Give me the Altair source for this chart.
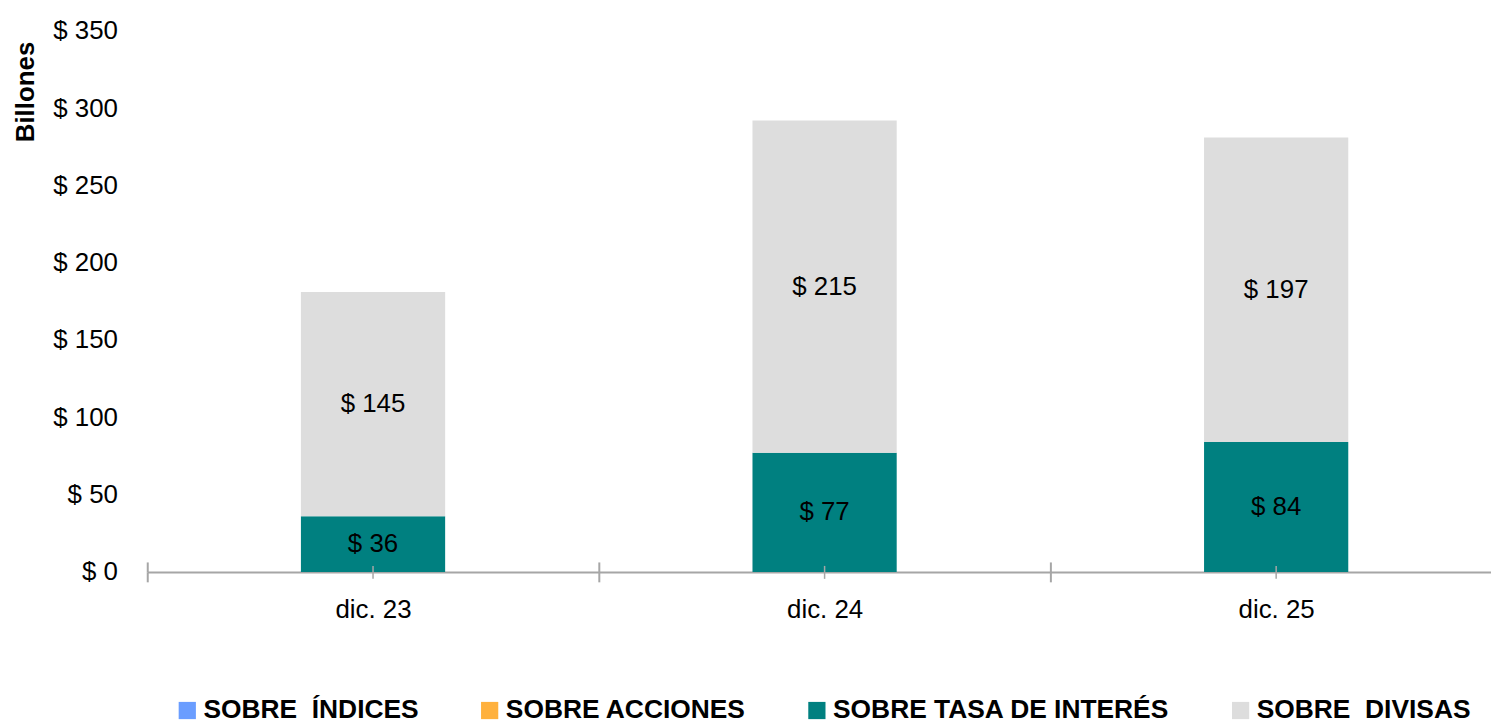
import altair as alt
import pandas as pd

periodos = ["dic. 23", "dic. 24", "dic. 25"]
series = ["SOBRE\u00a0 ÍNDICES", "SOBRE ACCIONES", "SOBRE TASA DE INTERÉS", "SOBRE\u00a0 DIVISAS"]
colores = ["#6A9DFF", "#FFB13D", "#008080", "#DDDDDD"]
indices = [0, 0, 0]
acciones = [0, 0, 0]
tasa = [36, 77, 84]
divisas = [145, 215, 197]
y_ticks = [0, 50, 100, 150, 200, 250, 300, 350]

rows = []
for i, p in enumerate(periodos):
    base = 0
    for k, (s, vals) in enumerate(zip(series, [indices, acciones, tasa, divisas])):
        v = vals[i]
        rows.append(dict(idx=i, periodo=p, serie=s, valor=v, orden=k,
                         y0=base, y1=base + v, mid=base + v / 2, etiqueta=f"$ {v}"))
        base += v
df = pd.DataFrame(rows)

FONT = "Liberation Sans, Arial, sans-serif"
GRAY = "#A6A6A6"
W = 1351
STEP = 454

n = len(periodos)
centers = list(range(n))
bounds = [i - 0.5 for i in range(n + 1)]
label_expr = "[" + ",".join(f"'{p}'" for p in periodos) + "][datum.value]"

xscale = alt.Scale(domain=[-0.5, n - 0.5], nice=False, zero=False, padding=0,
                   rangeMin=0, rangeMax=STEP * n)
yscale = alt.Scale(domain=[0, 350], nice=False)

yaxis = alt.Axis(values=y_ticks, labelExpr="'$ ' + datum.value", domain=False, ticks=False,
                 grid=False, labelFont=FONT, labelFontSize=26, labelColor="black",
                 labelPadding=30, title="Billones", titleFont=FONT, titleFontSize=26,
                 titleFontWeight="bold", titleAngle=270, titleX=-122, titleY=61,
                 titleAlign="center", titleBaseline="middle", titleColor="black")

base = alt.Chart(df)

bars = base.mark_bar(size=145).encode(
    x=alt.X("idx:Q", scale=xscale,
            axis=alt.Axis(title=None, orient="bottom", values=centers, labelExpr=label_expr,
                          domain=True, domainColor=GRAY, domainWidth=2, ticks=False,
                          labelAngle=0, labelFont=FONT, labelFontSize=26, labelColor="black",
                          labelPadding=25, grid=False, labelFlush=False, labelOverlap=False)),
    y=alt.Y("y0:Q", scale=yscale, axis=yaxis),
    y2="y1:Q",
    color=alt.Color("serie:N", scale=alt.Scale(domain=series, range=colores),
                    legend=alt.Legend(title=None, orient="none", legendX=27, legendY=670,
                                      direction="horizontal", symbolType="square", symbolSize=300,
                                      symbolStrokeWidth=0, labelFont=FONT, labelFontSize=26.5,
                                      labelFontWeight="bold", labelColor="black", labelLimit=0,
                                      columnPadding=58, labelOffset=3, padding=0)),
)

labels = base.transform_filter("datum.valor > 0").mark_text(
    font=FONT, fontSize=26, color="black", baseline="middle", align="center"
).encode(
    x=alt.X("idx:Q", scale=xscale,
            axis=alt.Axis(title=None, orient="bottom", values=bounds, labels=False, domain=False,
                          ticks=True, tickColor=GRAY, tickWidth=2, tickSize=10, grid=False)),
    y=alt.Y("mid:Q", scale=yscale, axis=yaxis),
    text="etiqueta:N",
)

center_ticks = base.transform_filter("datum.orden == 0").mark_rule(color=GRAY, strokeWidth=1.5).encode(
    x=alt.X("idx:Q", scale=xscale,
            axis=alt.Axis(title=None, orient="bottom", offset=-10, values=bounds, labels=False,
                          domain=False, ticks=True, tickColor=GRAY, tickWidth=2, tickSize=10,
                          grid=False)),
    y=alt.value(538),
    y2=alt.value(551),
)

chart = alt.layer(bars, labels, center_ticks).resolve_axis(x="independent").properties(
    width=W, height=544,
    autosize=alt.AutoSizeParams(type="none"),
    padding={"left": 140, "top": 21, "right": 0, "bottom": 150},
).configure_view(stroke=None)

chart.save("out.html", embed_options={"renderer": "svg", "actions": False})
